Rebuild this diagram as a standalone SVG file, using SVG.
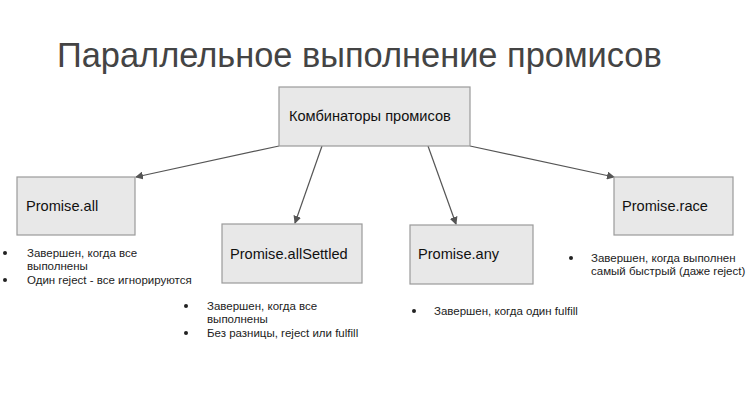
<svg xmlns="http://www.w3.org/2000/svg" width="750" height="420" viewBox="0 0 750 420">
<defs>
<style>
.box{fill:#e8e8e8;stroke:#9a9a9a;stroke-width:1.2}
.lbl{font-family:"Liberation Sans",Arial,sans-serif;font-size:14.6px;fill:#111}
.b{font-family:"Liberation Sans",Arial,sans-serif;font-size:11.5px;fill:#222}
.c{stroke:#555;stroke-width:1.2;fill:none;marker-end:url(#ar)}
</style>
<marker id="ar" markerWidth="8" markerHeight="8" refX="7" refY="4" orient="auto" markerUnits="userSpaceOnUse">
<path d="M0,0 L8,4 L0,8 z" fill="#555"/>
</marker>
</defs>
<rect width="750" height="420" fill="#fff"/>
<text x="57" y="67" font-family="'Liberation Sans',Arial,sans-serif" font-size="34.4" fill="#444">Параллельное выполнение промисов</text>
<g id="connectors">
<line class="c" x1="279" y1="146" x2="136" y2="177"/>
<line class="c" x1="322" y1="146" x2="295" y2="223"/>
<line class="c" x1="428" y1="146" x2="456" y2="224"/>
<line class="c" x1="470" y1="146" x2="614" y2="177"/>
</g>
<g id="root"><rect class="box" x="279" y="87" width="191" height="59"/><text class="lbl" x="289" y="121">Комбинаторы промисов</text></g>
<g id="all"><rect class="box" x="17" y="177" width="118" height="58"/><text class="lbl" x="26" y="211">Promise.all</text>
<circle cx="5" cy="253" r="2" fill="#222"/><text class="b" x="27" y="257">Завершен, когда все</text><text class="b" x="27" y="270">выполнены</text><circle cx="5" cy="280" r="2" fill="#222"/><text class="b" x="27" y="284">Один reject - все игнорируются</text></g>
<g id="allSettled"><rect class="box" x="222" y="224" width="140" height="59"/><text class="lbl" x="230" y="259">Promise.allSettled</text>
<circle cx="186" cy="306" r="2" fill="#222"/><text class="b" x="207" y="310">Завершен, когда все</text><text class="b" x="207" y="323">выполнены</text><circle cx="186" cy="333" r="2" fill="#222"/><text class="b" x="207" y="337">Без разницы, reject или fulfill</text></g>
<g id="any"><rect class="box" x="410" y="225" width="123" height="59"/><text class="lbl" x="418" y="259">Promise.any</text>
<circle cx="414" cy="311" r="2" fill="#222"/><text class="b" x="434" y="315">Завершен, когда один fulfill</text></g>
<g id="race"><rect class="box" x="614" y="177" width="119" height="58"/><text class="lbl" x="622" y="211">Promise.race</text>
<circle cx="571" cy="258" r="2" fill="#222"/><text class="b" x="591" y="262">Завершен, когда выполнен</text><text class="b" x="591" y="275">самый быстрый (даже reject)</text></g>
</svg>
